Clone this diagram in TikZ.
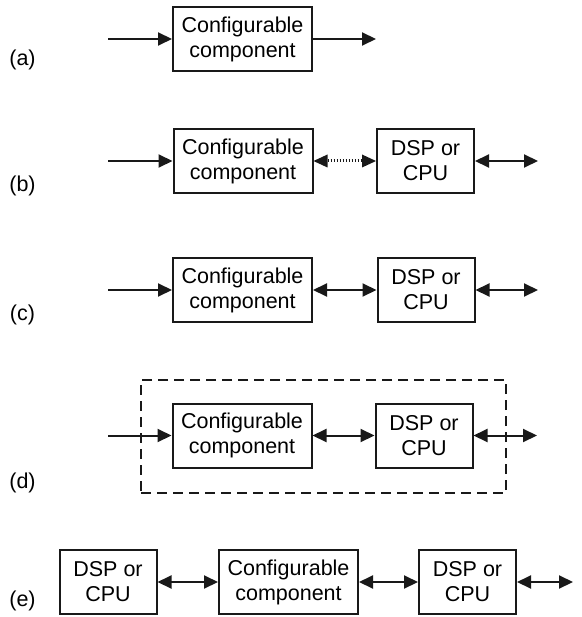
\documentclass[tikz,border=0pt]{standalone}
\usepackage{fontspec}
\setmainfont{Liberation Sans}
\usetikzlibrary{arrows.meta}
\tikzset{
  blk/.style={draw=black!90, line width=2pt, minimum height=64pt, inner sep=0pt, align=center,
    font=\fontsize{21.5}{25}\selectfont},
  cfgbox/.style={blk, minimum width=139pt},
  dspbox/.style={blk, minimum width=97pt},
  lbl/.style={font=\fontsize{21.5}{25}\selectfont, inner sep=0pt},
  arr/.style={draw=black!90, line width=2pt, -{Triangle[length=14pt, width=13pt]}},
  darr/.style={draw=black!90, line width=2pt, {Triangle[length=14pt, width=13pt]}-{Triangle[length=14pt, width=13pt]}},
  dotarr/.style={draw=black!90, line width=3pt, dash pattern=on 1.8pt off 1.2pt,
    {Triangle[length=14pt, width=13pt, line width=0pt]}-{Triangle[length=14pt, width=13pt, line width=0pt]}},
  groupbox/.style={draw=black!90, line width=2.8pt, dash pattern=on 10pt off 6pt, inner sep=0pt}
}
\begin{document}
\begin{tikzpicture}[x=1pt,y=-1pt]
\useasboundingbox (0,0) rectangle (581,617);
% (a)
\node[lbl] (la) at (22.5,60) {(a)};
\node[cfgbox] (cfgA) at (242.5,39) {Configurable\\component};
\coordinate (inA) at (108,39);
\coordinate (outA) at (376,39);
\draw[arr] (inA) -- (cfgA.west);
\draw[arr] (cfgA.east) -- (outA);
% (b)
\node[lbl] (lb) at (22.5,186) {(b)};
\node[cfgbox] (cfgB) at (243,161) {Configurable\\component};
\node[dspbox] (dspB) at (425.5,161) {DSP or\\CPU};
\coordinate (inB) at (108,161);
\coordinate (outB) at (538,161);
\draw[arr] (inB) -- (cfgB.west);
\draw[dotarr] (cfgB.east) -- (dspB.west);
\draw[darr] (dspB.east) -- (outB);
% (c)
\node[lbl] (lc) at (22.5,315) {(c)};
\node[cfgbox] (cfgC) at (242.5,290) {Configurable\\component};
\node[dspbox] (dspC) at (426,290) {DSP or\\CPU};
\coordinate (inC) at (108,290);
\coordinate (outC) at (538,290);
\draw[arr] (inC) -- (cfgC.west);
\draw[darr] (cfgC.east) -- (dspC.west);
\draw[darr] (dspC.east) -- (outC);
% (d)
\node[lbl] (ld) at (22.5,483) {(d)};
\node[groupbox, minimum width=365pt, minimum height=113pt] (grp) at (323.5,436.5) {};
\node[cfgbox] (cfgD) at (242,435.5) {Configurable\\component};
\node[dspbox] (dspD) at (424,435.5) {DSP or\\CPU};
\coordinate (inD) at (108,435.5);
\coordinate (outD) at (537,435.5);
\draw[arr] (inD) -- (cfgD.west);
\draw[darr] (cfgD.east) -- (dspD.west);
\draw[darr] (dspD.east) -- (outD);
% (e)
\node[lbl] (le) at (22.5,601) {(e)};
\node[dspbox] (dspE1) at (108,582) {DSP or\\CPU};
\node[cfgbox] (cfgE) at (288.5,582) {Configurable\\component};
\node[dspbox] (dspE2) at (467.5,582) {DSP or\\CPU};
\coordinate (outE) at (573,582);
\draw[darr] (dspE1.east) -- (cfgE.west);
\draw[darr] (cfgE.east) -- (dspE2.west);
\draw[darr] (dspE2.east) -- (outE);
\end{tikzpicture}
\end{document}
